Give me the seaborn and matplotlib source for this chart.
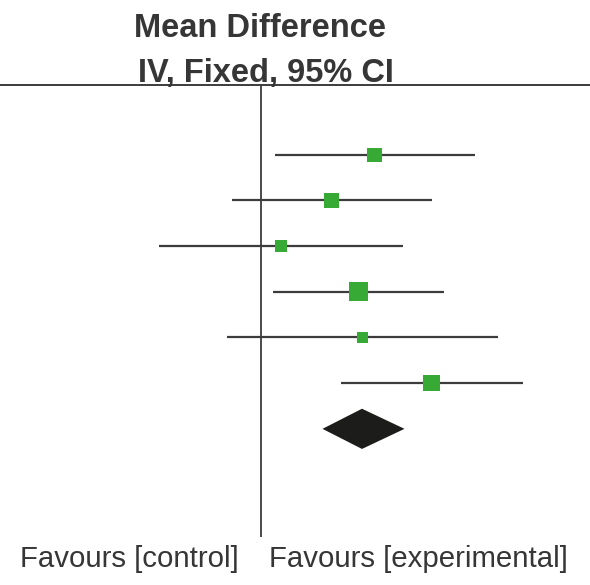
import matplotlib
matplotlib.use("Agg")
import matplotlib.pyplot as plt
import seaborn as sns
import pandas as pd

# study data (mean difference, 95% CI, weight %)
studies = ["Study 1", "Study 2", "Study 3", "Study 4", "Study 5", "Study 6"]
means = [2.27, 1.41, 0.40, 1.95, 2.03, 3.41]
lower = [0.27, -0.59, -2.04, 0.23, -0.68, 1.59]
upper = [4.27, 3.41, 2.83, 3.65, 4.73, 5.23]
weights = [15.2, 16.7, 11.7, 27.1, 8.8, 20.6]

# pooled estimate (diamond)
pooled_mean = 2.02
pooled_lower = 1.23
pooled_upper = 2.87

title_lines = ["Mean Difference", "IV, Fixed, 95% CI"]
left_label = "Favours [control]"
right_label = "Favours [experimental]"

sns.set_style("white")
plt.rcParams["font.family"] = ["Liberation Sans", "DejaVu Sans"]

GREEN = "#37a935"
LINE = "#3c3c3c"
TEXT = "#363636"

df = pd.DataFrame({"study": studies, "mean": means, "lower": lower,
                   "upper": upper, "weight": weights})
df["row"] = range(len(df))

fig = plt.figure(figsize=(5.9, 5.85), dpi=100)
ax = fig.add_axes([0.0, 0.0826, 1.0, 0.7721])

# null line
ax.axvline(0, color=LINE, lw=1.3, zorder=1)

# confidence intervals
ax.hlines(df["row"], df["lower"], df["upper"], color=LINE, lw=1.6, zorder=2)

# point estimates, square area ~ weight
k = 6.7
sns.scatterplot(data=df, x="mean", y="row", size="weight",
                sizes=(k * min(weights), k * max(weights)),
                marker="s", color=GREEN, linewidth=0, legend=False,
                ax=ax, zorder=3)

# pooled diamond
yd = len(df)
h = 0.44
ax.fill([pooled_lower, pooled_mean, pooled_upper, pooled_mean],
        [yd, yd - h, yd, yd + h], color="#1c1c1a", lw=0, zorder=3)

ax.set_xlim(-5.22, 6.58)
ax.set_ylim(8.36, -1.525)
ax.set_xlabel("")
ax.set_ylabel("")
ax.set_xticks([])
ax.set_yticks([])
for side in ["left", "right", "bottom"]:
    ax.spines[side].set_visible(False)
ax.spines["top"].set_color(LINE)
ax.spines["top"].set_linewidth(1.4)

# header
fig.text(260 / 590, 1 - 36.7 / 585, title_lines[0], ha="center", va="baseline",
         fontsize=23.5, fontweight="bold", color=TEXT)
fig.text(266 / 590, 1 - 82 / 585, title_lines[1], ha="center", va="baseline",
         fontsize=23.5, fontweight="bold", color=TEXT)

# favours labels
fig.text(239 / 590, 1 - 567 / 585, left_label, ha="right", va="baseline",
         fontsize=21.2, color=TEXT)
fig.text(269 / 590, 1 - 567 / 585, right_label, ha="left", va="baseline",
         fontsize=21.2, color=TEXT)

fig.savefig("out.png", dpi=100)
